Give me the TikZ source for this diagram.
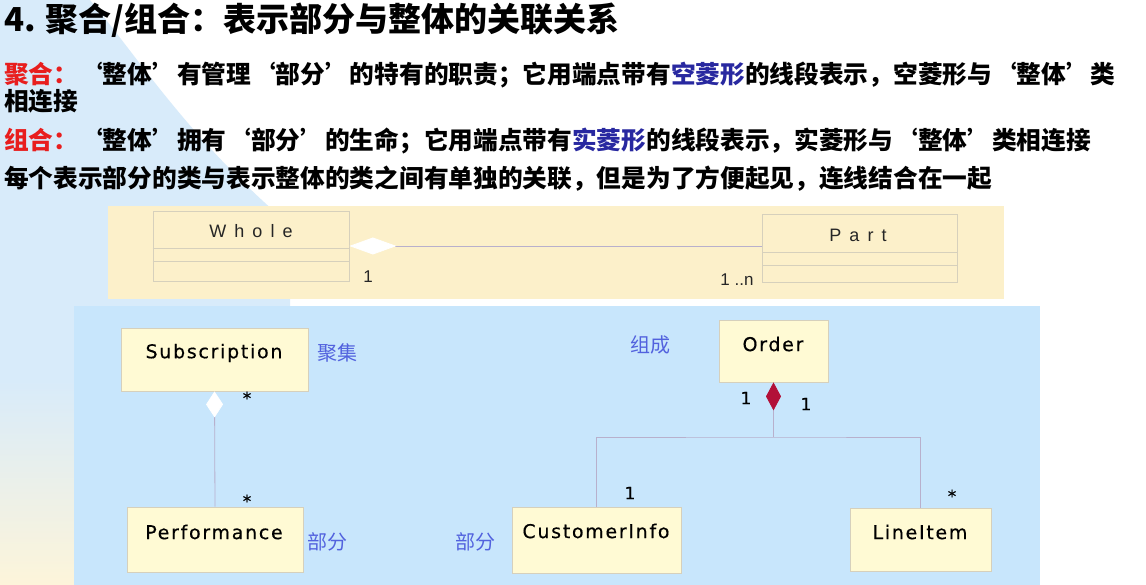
\documentclass[tikz,border=0pt]{standalone}
\usepackage{fontspec}
\usetikzlibrary{arrows.meta}
\setmainfont{DejaVu Sans}
\newfontfamily\cjk{Noto Sans CJK SC}
\newfontfamily\classfont{DejaVu Sans}[LetterSpace=9, FakeBold=0.4]
\newfontfamily\umlfont{Liberation Sans}[LetterSpace=45]
\newfontfamily\multfont{Liberation Sans}

\definecolor{panelyellow}{RGB}{252,240,202}
\definecolor{panelblue}{RGB}{200,230,252}
\definecolor{swooshblue}{RGB}{216,235,250}
\definecolor{classfill}{RGB}{255,250,212}
\definecolor{classline}{RGB}{214,208,188}
\definecolor{linkline}{RGB}{184,176,204}
\definecolor{compred}{RGB}{178,16,56}
\definecolor{headred}{RGB}{232,30,30}
\definecolor{headblue}{RGB}{40,40,160}
\definecolor{labelblue}{RGB}{82,98,222}

\begin{document}
\begin{tikzpicture}[x=1pt,y=-1pt,
    head/.style={anchor=west, inner sep=0pt, font=\cjk\bfseries\fontsize{24.7}{30}\selectfont},
    uml box/.style={rectangle, draw=classline, fill=panelyellow, line width=0.8pt},
    uml name/.style={inner sep=0pt, font=\umlfont\fontsize{18}{20}\selectfont, text=black!85},
    uml mult/.style={inner sep=0pt, font=\multfont\fontsize{17}{18}\selectfont, text=black!85},
    cls box/.style={rectangle, draw=classline, fill=classfill, line width=0.8pt},
    cls name/.style={inner sep=0pt, font=\classfont\fontsize{19}{21}\selectfont, text=black},
    cls mult/.style={inner sep=0pt, font=\classfont\fontsize{17}{18}\selectfont, text=black},
    zh label/.style={inner sep=0pt, font=\cjk\fontsize{20}{22}\selectfont, text=labelblue},
    link line/.style={draw=linkline, line width=0.8pt}]

  \useasboundingbox (0,0) rectangle (1146,585);
  \fill[white] (0,0) rectangle (1146,585);

  % background swoosh on the left
  \fill[swooshblue] (0,0) -- (90,0) .. controls (140,60) and (190,140) .. (290,225)
    -- (290,306) -- (74,306) -- (74,585) -- (0,585) -- cycle;
  \shade[top color=swooshblue, bottom color=panelyellow!70] (0,380) rectangle (74,585);

  % title and text
  \node[head, font=\cjk\bfseries\fontsize{33}{36}\selectfont] (title) at (4,20) {4. 聚合/组合：表示部分与整体的关联关系};
  \node[head] (line-1) at (4,75) {\textcolor{headred}{聚合：}‘整体’有管理‘部分’的特有的职责；它用端点带有\textcolor{headblue}{空菱形}的线段表示，空菱形与‘整体’类};
  \node[head] (line-1b) at (4,101) {相连接};
  \node[head] (line-2) at (4,141) {\textcolor{headred}{组合：}‘整体’拥有‘部分’的生命；它用端点带有\textcolor{headblue}{实菱形}的线段表示，实菱形与‘整体’类相连接};
  \node[head] (line-3) at (4,179) {每个表示部分的类与表示整体的类之间有单独的关联，但是为了方便起见，连线结合在一起};

  % panels
  \fill[panelyellow] (108,206) rectangle (1004,299);
  \fill[panelblue] (74,306) rectangle (1040,585);

  % whole / part
  \node(cls-whole)[uml box, minimum width=196pt, minimum height=70pt] at (251,246) {};
  \node(cls-part)[uml box, minimum width=195pt, minimum height=68pt] at (860,248) {};
  \node at (251,231) [uml name] {Whole};
  \node at (858,235) [uml name] {Part};
  \draw[classline, line width=0.8pt] (cls-whole.west |- 0,248) -- (cls-whole.east |- 0,248)
    (cls-whole.west |- 0,261) -- (cls-whole.east |- 0,261);
  \draw[classline, line width=0.8pt] (cls-part.west |- 0,252) -- (cls-part.east |- 0,252)
    (cls-part.west |- 0,265) -- (cls-part.east |- 0,265);
  \draw[link line, {Diamond[length=47pt, width=17pt, color=white]}-] (cls-whole.east) -- (cls-whole.east -| cls-part.west);
  \node at (368,277) [uml mult] {1};
  \node at (737,280) [uml mult] {1 ..n};

  % aggregation
  \node(cls-sub)[cls box, minimum width=187pt, minimum height=63pt] at (214.5,359.5) {};
  \node(cls-perf)[cls box, minimum width=176pt, minimum height=65pt] at (215,539.5) {};
  \node at (214,353) [cls name] {Subscription};
  \node at (214,532) [cls name] {Performance};
  \draw[link line, {Diamond[length=26pt, width=17pt, color=white]}-] (cls-sub.south) -- (cls-perf.north);
  \node at (247,398) [cls mult] {*};
  \node at (247,501) [cls mult] {*};
  \node at (337,353) [zh label] {聚集};
  \node at (327,542) [zh label] {部分};

  % composition
  \node(cls-ord)[cls box, minimum width=109pt, minimum height=62pt] at (773.5,351) {};
  \node(cls-cust)[cls box, minimum width=169pt, minimum height=66pt] at (596.5,540) {};
  \node(cls-item)[cls box, minimum width=141pt, minimum height=63pt] at (920.5,539.5) {};
  \node at (773,344) [cls name] {Order};
  \node at (596,531) [cls name] {CustomerInfo};
  \node at (920,532) [cls name] {LineItem};
  \coordinate (ord-join) at (773.5,437);
  \draw[link line, {Diamond[length=28pt, width=15pt, color=compred]}-] (cls-ord.south) -- (ord-join);
  \draw[link line] (cls-cust.north) |- (ord-join) -| (cls-item.north);
  \node at (746,398) [cls mult] {1};
  \node at (806,404) [cls mult] {1};
  \node at (630,493) [cls mult] {1};
  \node at (952,496) [cls mult] {*};
  \node at (650,345) [zh label] {组成};
  \node at (475,542) [zh label] {部分};
\end{tikzpicture}
\end{document}
